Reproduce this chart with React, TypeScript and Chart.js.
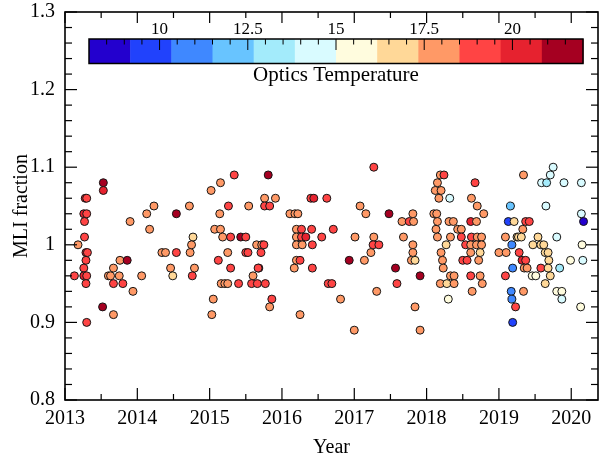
import React, { useEffect, useRef } from "react";
import { Chart, registerables } from "chart.js";

Chart.register(...registerables);

const FONT = '"Liberation Serif", "Times New Roman", serif';

// Observation year (decimal)
const years = [
  2013.53, 2013.53, 2013.28, 2013.30, 2013.26, 2013.30, 2013.27, 2013.27, 2013.18, 2013.29,
  2013.31, 2013.29, 2013.26, 2013.13, 2013.26, 2013.30, 2013.29, 2013.52, 2013.30, 2014.23,
  2014.13, 2013.90, 2014.17, 2013.76, 2013.86, 2013.67, 2013.60, 2013.63, 2013.75, 2014.06,
  2013.67, 2013.80, 2013.94, 2013.67,
  2015.34, 2015.15, 2015.02, 2014.72, 2015.26, 2014.54, 2015.14, 2015.07, 2015.15, 2014.77,
  2015.18, 2015.29, 2015.43, 2015.50, 2014.75, 2014.34, 2014.39, 2014.54, 2014.73, 2015.25,
  2015.50, 2015.12, 2014.46, 2014.79, 2015.29, 2014.49, 2014.76, 2015.16, 2015.21, 2015.25,
  2015.40, 2015.05, 2015.03,
  2015.81, 2015.76, 2015.91, 2016.40, 2016.44, 2016.62, 2015.54, 2015.76, 2015.83, 2016.11,
  2016.18, 2016.22, 2016.20, 2016.27, 2016.41, 2016.71, 2016.20, 2016.27, 2016.33, 2016.55,
  2015.65, 2015.72, 2015.75, 2016.20, 2016.28, 2016.42, 2015.53, 2015.71, 2016.20, 2016.25,
  2015.68, 2015.67, 2016.17, 2016.42, 2015.60, 2015.58, 2015.66, 2015.77, 2016.64, 2016.69,
  2015.86, 2015.83, 2016.25,
  2017.27, 2017.08, 2017.16, 2017.48, 2017.81, 2017.66, 2017.76, 2017.82, 2017.01, 2017.27,
  2017.68, 2017.26, 2017.34, 2017.81, 2017.23, 2017.81, 2016.93, 2017.14, 2017.79, 2017.84,
  2017.57, 2017.91, 2017.59, 2017.31, 2016.81, 2017.84, 2017.00, 2017.91,
  2018.19, 2018.24, 2018.15, 2018.67, 2018.12, 2018.20, 2018.17, 2018.32, 2018.62, 2018.70,
  2019.16, 2018.10, 2018.14, 2018.79, 2018.15, 2018.31, 2018.37, 2018.61, 2018.69, 2019.13,
  2019.21, 2018.13, 2018.43, 2018.48, 2018.15, 2018.33, 2018.48, 2018.62, 2018.70, 2018.76,
  2019.09, 2019.25, 2018.27, 2018.54, 2018.61, 2018.69, 2018.76, 2019.18, 2018.20, 2018.61,
  2018.74, 2019.00, 2019.10, 2018.22, 2018.50, 2018.56, 2018.72, 2018.23, 2019.19, 2018.33,
  2018.38, 2018.61, 2018.74, 2019.09, 2018.19, 2018.28, 2018.38, 2018.77, 2018.63, 2019.17,
  2018.30, 2019.18, 2019.23, 2019.19,
  2019.75, 2019.34, 2019.71, 2019.59, 2019.66, 2019.90, 2020.14, 2019.65, 2020.14, 2019.37,
  2019.42, 2020.17, 2019.33, 2019.27, 2019.31, 2019.54, 2019.80, 2019.47, 2019.58, 2019.62,
  2020.15, 2019.28, 2019.64, 2019.68, 2019.32, 2019.37, 2019.69, 2019.99, 2020.16, 2019.35,
  2019.39, 2019.58, 2019.68, 2019.84, 2019.46, 2019.51, 2019.71, 2019.64, 2019.34, 2019.80,
  2019.87, 2019.87, 2020.13,
];

// MLI fraction
const mliFraction = [
  1.08, 1.07, 1.06, 1.06, 1.04, 1.04, 1.03, 1.01, 1.00, 0.99,
  0.99, 0.98, 0.97, 0.96, 0.96, 0.96, 0.95, 0.92, 0.90, 1.05,
  1.04, 1.03, 1.02, 0.98, 0.98, 0.97, 0.96, 0.96, 0.96, 0.96,
  0.95, 0.95, 0.94, 0.91,
  1.09, 1.08, 1.07, 1.05, 1.05, 1.04, 1.04, 1.02, 1.02, 1.01,
  1.01, 1.01, 1.01, 1.01, 1.00, 0.99, 0.99, 0.99, 0.99, 0.99,
  0.99, 0.98, 0.97, 0.97, 0.97, 0.96, 0.96, 0.95, 0.95, 0.95,
  0.95, 0.93, 0.91,
  1.09, 1.06, 1.06, 1.06, 1.06, 1.06, 1.05, 1.05, 1.05, 1.04,
  1.04, 1.04, 1.02, 1.02, 1.02, 1.02, 1.01, 1.01, 1.01, 1.01,
  1.00, 1.00, 1.00, 1.00, 1.00, 1.00, 0.99, 0.99, 0.98, 0.98,
  0.97, 0.97, 0.97, 0.97, 0.96, 0.95, 0.95, 0.95, 0.95, 0.95,
  0.93, 0.92, 0.91,
  1.10, 1.05, 1.04, 1.04, 1.04, 1.03, 1.03, 1.03, 1.01, 1.01,
  1.01, 1.00, 1.00, 1.00, 0.99, 0.99, 0.98, 0.98, 0.98, 0.98,
  0.97, 0.96, 0.95, 0.94, 0.93, 0.92, 0.89, 0.89,
  1.09, 1.09, 1.08, 1.08, 1.07, 1.07, 1.06, 1.06, 1.06, 1.05,
  1.05, 1.04, 1.04, 1.04, 1.03, 1.03, 1.03, 1.03, 1.03, 1.03,
  1.03, 1.02, 1.02, 1.02, 1.01, 1.01, 1.01, 1.01, 1.01, 1.01,
  1.01, 1.01, 1.00, 1.00, 1.00, 1.00, 1.00, 1.00, 0.99, 0.99,
  0.99, 0.99, 0.99, 0.98, 0.98, 0.98, 0.98, 0.97, 0.97, 0.96,
  0.96, 0.96, 0.96, 0.96, 0.95, 0.95, 0.95, 0.95, 0.94, 0.94,
  0.93, 0.93, 0.92, 0.90,
  1.10, 1.09, 1.09, 1.08, 1.08, 1.08, 1.08, 1.05, 1.04, 1.03,
  1.03, 1.03, 1.02, 1.01, 1.01, 1.01, 1.01, 1.00, 1.00, 1.00,
  1.00, 0.99, 0.99, 0.99, 0.98, 0.98, 0.98, 0.98, 0.98, 0.97,
  0.97, 0.97, 0.97, 0.97, 0.96, 0.96, 0.96, 0.95, 0.94, 0.94,
  0.94, 0.93, 0.92,
];

// Optics temperature
const opticsTemp = [
  21.4, 20.3, 20.3, 19.1, 20.3, 19.1, 19.1, 19.1, 18.0, 20.3,
  19.1, 19.1, 19.1, 19.1, 20.3, 19.1, 19.1, 21.4, 19.1, 18.0,
  18.0, 18.0, 18.0, 18.0, 21.4, 18.0, 18.0, 18.0, 18.0, 18.0,
  19.1, 19.1, 18.0, 18.0,
  19.1, 18.0, 18.0, 18.0, 19.1, 21.4, 18.0, 18.0, 18.0, 16.8,
  18.0, 19.1, 21.4, 19.1, 18.0, 18.0, 18.0, 19.1, 18.0, 18.0,
  19.1, 19.1, 18.0, 18.0, 19.1, 16.8, 19.1, 18.0, 18.0, 18.0,
  19.1, 18.0, 18.0,
  21.4, 18.0, 18.0, 19.1, 20.3, 19.1, 18.0, 19.1, 19.1, 18.0,
  18.0, 18.0, 18.0, 19.1, 19.1, 19.1, 18.0, 19.1, 20.3, 19.1,
  18.0, 18.0, 19.1, 18.0, 18.0, 19.1, 19.1, 19.1, 18.0, 19.1,
  21.4, 19.1, 18.0, 19.1, 18.0, 19.1, 19.1, 19.1, 19.1, 19.1,
  19.1, 18.0, 18.0,
  19.1, 18.0, 18.0, 21.4, 18.0, 18.0, 19.1, 18.0, 18.0, 18.0,
  18.0, 19.1, 19.1, 18.0, 18.0, 18.0, 21.4, 18.0, 18.0, 16.8,
  21.4, 21.4, 19.1, 18.0, 18.0, 18.0, 18.0, 18.0,
  18.0, 19.1, 18.0, 19.1, 18.0, 18.0, 18.0, 14.4, 18.0, 18.0,
  12.1, 18.0, 18.0, 18.0, 18.0, 18.0, 18.0, 20.3, 18.0, 9.8,
  16.8, 18.0, 18.0, 18.0, 18.0, 18.0, 19.1, 19.1, 18.0, 18.0,
  18.0, 16.8, 16.8, 19.1, 18.0, 18.0, 18.0, 10.9, 18.0, 18.0,
  16.8, 18.0, 18.0, 18.0, 19.1, 19.1, 18.0, 18.0, 10.9, 18.0,
  18.0, 19.1, 18.0, 19.1, 18.0, 16.8, 18.0, 18.0, 18.0, 10.9,
  15.6, 10.9, 19.1, 9.8,
  14.4, 18.0, 14.4, 14.4, 13.3, 14.4, 14.4, 14.4, 14.4, 19.1,
  19.1, 8.6, 18.0, 16.8, 16.8, 16.8, 14.4, 16.8, 16.8, 16.8,
  15.6, 19.1, 16.8, 16.8, 20.3, 19.1, 16.8, 15.6, 14.4, 18.0,
  18.0, 19.1, 16.8, 13.3, 15.6, 15.6, 16.8, 16.8, 18.0, 15.6,
  15.6, 14.4, 15.6,
];

// Colour scale
const tempMin = 8;
const tempMax = 22;
const binColors = [
  "#2300CE", "#2142FC", "#3F88FF", "#68C4FF", "#A3EBFB", "#D9FBFF",
  "#FFFCDE", "#FFD898", "#FF9966", "#FF4444", "#E6222F", "#A50021",
];
const cbarLabels = [10, 12.5, 15, 17.5, 20];
const cbarTitle = "Optics Temperature";

const xMin = 2013;
const xMax = 2020.37;
const yMin = 0.8;
const yMax = 1.3;

function colorFor(t: number): string {
  const w = (tempMax - tempMin) / binColors.length;
  const k = Math.min(binColors.length - 1, Math.max(0, Math.floor((t - tempMin) / w)));
  return binColors[k];
}

const framePlugin = {
  id: "frameAndColorbar",
  afterDatasetsDraw(chart: any) {
    const { ctx, chartArea: a, scales } = chart;
    const xs = scales.x;
    const ys = scales.y;
    ctx.save();
    ctx.strokeStyle = "#000";
    const seg = (x1: number, y1: number, x2: number, y2: number) => {
      ctx.beginPath();
      ctx.moveTo(x1, y1);
      ctx.lineTo(x2, y2);
      ctx.stroke();
    };
    ctx.lineWidth = 1.2;
    // x ticks (bottom and top), inward
    for (let i = 0; ; i++) {
      const v = xMin + i * 0.5;
      if (v > xMax + 1e-9) break;
      const px = xs.getPixelForValue(v);
      const isMajor = i % 2 === 0;
      seg(px, a.bottom, px, a.bottom - (isMajor ? 12 : 6));
      seg(px, a.top, px, a.top + (isMajor ? 11 : 6));
    }
    // y ticks (left and right), inward
    for (let i = 0; i <= 25; i++) {
      const v = yMin + i * 0.02;
      const py = ys.getPixelForValue(v);
      const isMajor = i % 5 === 0;
      seg(a.left, py, a.left + (isMajor ? 12 : 7), py);
      seg(a.right, py, a.right - (isMajor ? 12 : 7), py);
    }
    // frame
    ctx.lineWidth = 1.6;
    ctx.strokeRect(a.left, a.top, a.right - a.left, a.bottom - a.top);

    // colour bar
    const cl = a.left + 24;
    const cr = a.right - 15;
    const ct = a.top + 27;
    const cb = a.top + 51.5;
    const tx = (t: number) => cl + ((t - tempMin) / (tempMax - tempMin)) * (cr - cl);
    const w = (tempMax - tempMin) / binColors.length;
    binColors.forEach((c, k) => {
      const x1 = tx(tempMin + k * w);
      const x2 = tx(tempMin + (k + 1) * w);
      ctx.fillStyle = c;
      ctx.fillRect(x1, ct, x2 - x1 + 0.5, cb - ct);
    });
    ctx.lineWidth = 1;
    for (let i = 1; ; i++) {
      const v = tempMin + i * 0.5;
      if (v >= tempMax - 1e-9) break;
      const isMajor = Math.abs(v / 2.5 - Math.round(v / 2.5)) < 1e-9;
      seg(tx(v), ct, tx(v), ct + (isMajor ? 11 : 5.5));
    }
    ctx.lineWidth = 1.5;
    ctx.strokeRect(cl, ct, cr - cl, cb - ct);

    ctx.fillStyle = "#000";
    ctx.textAlign = "center";
    ctx.textBaseline = "middle";
    ctx.font = `17px ${FONT}`;
    cbarLabels.forEach((v) => ctx.fillText(String(v), tx(v), ct - 9));
    ctx.font = `21px ${FONT}`;
    ctx.fillText(cbarTitle, (cl + cr) / 2, cb + 12);
    ctx.restore();
  },
};

export default function App() {
  const ref = useRef<HTMLCanvasElement | null>(null);
  useEffect(() => {
    if (!ref.current) return;
    const points = years.map((x, i) => ({ x, y: mliFraction[i] }));
    const chart = new Chart(ref.current, {
      type: "scatter",
      data: {
        datasets: [
          {
            data: points,
            backgroundColor: opticsTemp.map(colorFor),
            borderColor: "#151515",
            borderWidth: 1,
            pointRadius: 4,
            pointHoverRadius: 4,
          },
        ],
      },
      options: {
        animation: false,
        responsive: false,
        events: [],
        layout: { padding: { top: 12, right: 7, left: 0, bottom: 0 } },
        plugins: { legend: { display: false }, tooltip: { enabled: false } },
        scales: {
          x: {
            type: "linear",
            min: xMin,
            max: xMax,
            grid: { display: false, drawTicks: false },
            border: { display: false },
            ticks: {
              stepSize: 1,
              includeBounds: false,
              maxRotation: 0,
              autoSkip: false,
              padding: 7,
              color: "#000",
              font: { family: FONT, size: 20 },
              callback: (v: any) => String(Math.round(Number(v))),
            },
            title: {
              display: true,
              text: "Year",
              color: "#000",
              font: { family: FONT, size: 20, lineHeight: 1 },
              padding: { top: 0, bottom: 0 },
            },
            afterFit: (s: any) => {
              s.height = 58;
              s.paddingLeft = 0;
              s.paddingRight = 0;
            },
          },
          y: {
            type: "linear",
            min: yMin,
            max: yMax,
            grid: { display: false, drawTicks: false },
            border: { display: false },
            ticks: {
              stepSize: 0.1,
              padding: 10,
              color: "#000",
              font: { family: FONT, size: 20 },
              callback: (v: any) => String(Math.round(Number(v) * 10) / 10),
            },
            title: {
              display: true,
              text: "MLI fraction",
              color: "#000",
              font: { family: FONT, size: 20, lineHeight: 1 },
              padding: { top: 12, bottom: 0 },
            },
            afterFit: (s: any) => {
              s.width = 65;
              s.paddingTop = 0;
              s.paddingBottom = 0;
            },
          },
        },
      },
      plugins: [framePlugin],
    });
    return () => chart.destroy();
  }, []);
  return (
    <div style={{ position: "absolute", left: 0, top: 0, width: 605, height: 458, background: "#fff" }}>
      <canvas ref={ref} width={605} height={458} style={{ width: 605, height: 458, display: "block" }} />
    </div>
  );
}
